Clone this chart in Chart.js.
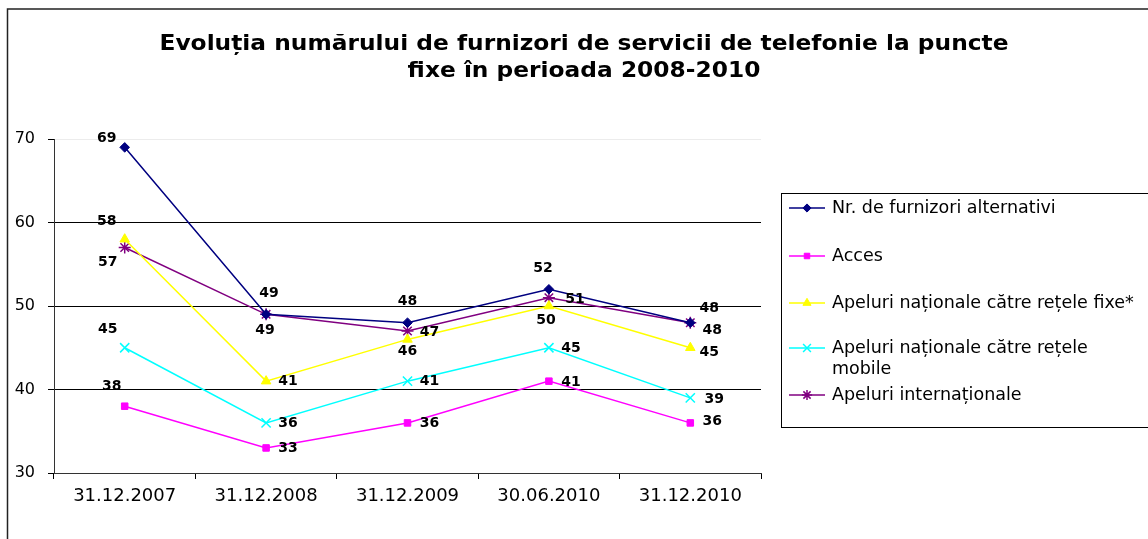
<!DOCTYPE html>
<html>
<head>
<meta charset="utf-8">
<script src="https://cdn.jsdelivr.net/npm/chart.js@4/dist/chart.umd.min.js"></script>
<style>
  html, body { margin: 0; padding: 0; background: #fff; }
  #wrap { position: relative; width: 1148px; height: 539px; }
</style>
</head>
<body>
<div id="wrap"><canvas id="c" width="1148" height="539"></canvas></div>
<script>
// ---- data ----
const categories = ['31.12.2007', '31.12.2008', '31.12.2009', '30.06.2010', '31.12.2010'];
const seriesNames = [
  'Nr. de furnizori alternativi',
  'Acces',
  'Apeluri naționale către rețele fixe*',
  ['Apeluri naționale către rețele', 'mobile'],
  'Apeluri internaționale'
];
const furnizori = [69, 49, 48, 52, 48];
const acces = [38, 33, 36, 41, 36];
const apeluriFixe = [58, 41, 46, 50, 45];
const apeluriMobile = [45, 36, 41, 45, 39];
const apeluriInternationale = [57, 49, 47, 51, 48];
const yTicks = [30, 40, 50, 60, 70];
const titleLines = ['Evoluția numărului de furnizori de servicii de telefonie la puncte', 'fixe în perioada 2008-2010'];

// ---- styles ----
const colors = ['#000080', '#FF00FF', '#FFFF00', '#00FFFF', '#800080'];
const pointStyles = ['rectRot', 'rect', 'triangle', 'crossRot', 'star'];
const pointRadii = [4.8, 4.6, 5.5, 6.5, 6];
// label offsets (px) relative to each point
const labelOffsets = [
  [[-18, -9], [3, -21], [0, -21], [-6, -21], [19, -14]],
  [[-13, -20], [22, 0], [22, 0], [22, 1], [22, -2]],
  [[-18, -18], [22, 0], [0, 12], [-3, 14], [19, 5]],
  [[-17, -18], [22, 0], [22, 0], [22, 1], [24, 2]],
  [[-17, 15], [-1, 16], [22, 1], [26, 2], [22, 8]]
];
const legendRowsY = [208, 256, 303, 348, 395];

const seriesData = [furnizori, acces, apeluriFixe, apeluriMobile, apeluriInternationale];

const datasets = seriesData.map((d, i) => ({
  label: Array.isArray(seriesNames[i]) ? seriesNames[i].join(' ') : seriesNames[i],
  data: d,
  borderColor: colors[i],
  backgroundColor: colors[i],
  pointBackgroundColor: colors[i],
  pointBorderColor: colors[i],
  pointStyle: pointStyles[i],
  pointRadius: pointRadii[i],
  pointBorderWidth: (pointStyles[i] === 'crossRot' || pointStyles[i] === 'star') ? 1.5 : 1,
  borderWidth: 1.5,
  tension: 0,
  fill: false
}));

const framePlugin = {
  id: 'frame',
  beforeDraw(chart) {
    const ctx = chart.ctx;
    ctx.save();
    ctx.fillStyle = '#fff';
    ctx.fillRect(0, 0, chart.width, chart.height);
    ctx.restore();
  },
  afterDraw(chart) {
    const ctx = chart.ctx;
    ctx.save();
    // outer border
    ctx.strokeStyle = '#222';
    ctx.lineWidth = 1.5;
    ctx.beginPath();
    ctx.moveTo(7.5, 545);
    ctx.lineTo(7.5, 9);
    ctx.lineTo(1150, 9);
    ctx.stroke();
    // title (slightly widened, like the reference)
    ctx.fillStyle = '#000';
    ctx.font = 'bold 22px "DejaVu Sans"';
    ctx.textAlign = 'center';
    ctx.textBaseline = 'middle';
    const sx = 1.06;
    ctx.save();
    ctx.translate(584, 0);
    ctx.scale(sx, 1);
    ctx.fillText(titleLines[0], 0, 44);
    ctx.fillText(titleLines[1], 0, 71);
    ctx.restore();
    // legend
    ctx.strokeStyle = '#000';
    ctx.lineWidth = 1;
    ctx.strokeRect(781.5, 193.5, 420, 234);
    chart.data.datasets.forEach((ds, i) => {
      const y = legendRowsY[i];
      ctx.strokeStyle = ds.borderColor;
      ctx.lineWidth = 1.5;
      ctx.beginPath();
      ctx.moveTo(789, y);
      ctx.lineTo(825, y);
      ctx.stroke();
      ctx.fillStyle = ds.pointBackgroundColor;
      ctx.strokeStyle = ds.pointBorderColor;
      ctx.lineWidth = ds.pointBorderWidth;
      Chart.helpers.drawPoint(ctx, {pointStyle: ds.pointStyle, radius: ds.pointRadius * 0.85, rotation: 0, borderWidth: ds.pointBorderWidth}, 807, y);
      ctx.fillStyle = '#000';
      ctx.font = '17.5px "DejaVu Sans"';
      ctx.textAlign = 'left';
      ctx.textBaseline = 'middle';
      const name = seriesNames[i];
      if (Array.isArray(name)) {
        name.forEach((ln, k) => ctx.fillText(ln, 832, y + k * 21));
      } else {
        ctx.fillText(name, 832, y);
      }
    });
    ctx.restore();
  },
  afterDatasetsDraw(chart) {
    const ctx = chart.ctx;
    ctx.save();
    ctx.fillStyle = '#000';
    ctx.font = 'bold 14px "DejaVu Sans"';
    ctx.textAlign = 'center';
    ctx.textBaseline = 'middle';
    chart.data.datasets.forEach((ds, i) => {
      const meta = chart.getDatasetMeta(i);
      meta.data.forEach((pt, j) => {
        const off = labelOffsets[i][j];
        ctx.fillText(String(ds.data[j]), pt.x + off[0], pt.y + off[1]);
      });
    });
    ctx.restore();
  }
};

new Chart(document.getElementById('c'), {
  type: 'line',
  data: { labels: categories, datasets },
  plugins: [framePlugin],
  options: {
    responsive: false,
    animation: false,
    devicePixelRatio: 1,
    layout: { padding: { top: 139, left: 0, right: 387, bottom: 0 } },
    plugins: {
      legend: { display: false },
      title: { display: false },
      tooltip: { enabled: false }
    },
    scales: {
      x: {
        offset: true,
        afterFit(scale) { scale.height = 66; },
        grid: { offset: true, drawOnChartArea: false, drawTicks: true, tickLength: 6, tickColor: '#000', color: '#000' },
        border: { color: '#333', width: 1 },
        ticks: { color: '#000', font: { family: 'DejaVu Sans', size: 18 }, padding: 7, maxRotation: 0, autoSkip: false }
      },
      y: {
        min: yTicks[0],
        max: yTicks[yTicks.length - 1],
        afterFit(scale) { scale.width = 54; },
        afterBuildTicks(scale) { scale.ticks = yTicks.map(v => ({ value: v })); },
        grid: {
          drawTicks: true, tickLength: 6, tickColor: '#000',
          color: (c) => (c.tick && c.tick.value === 70) ? '#ececec' : '#000',
          lineWidth: 1
        },
        border: { color: '#333', width: 1 },
        ticks: { color: '#000', font: { family: 'DejaVu Sans', size: 16 }, padding: 13 }
      }
    }
  }
});
</script>
</body>
</html>
